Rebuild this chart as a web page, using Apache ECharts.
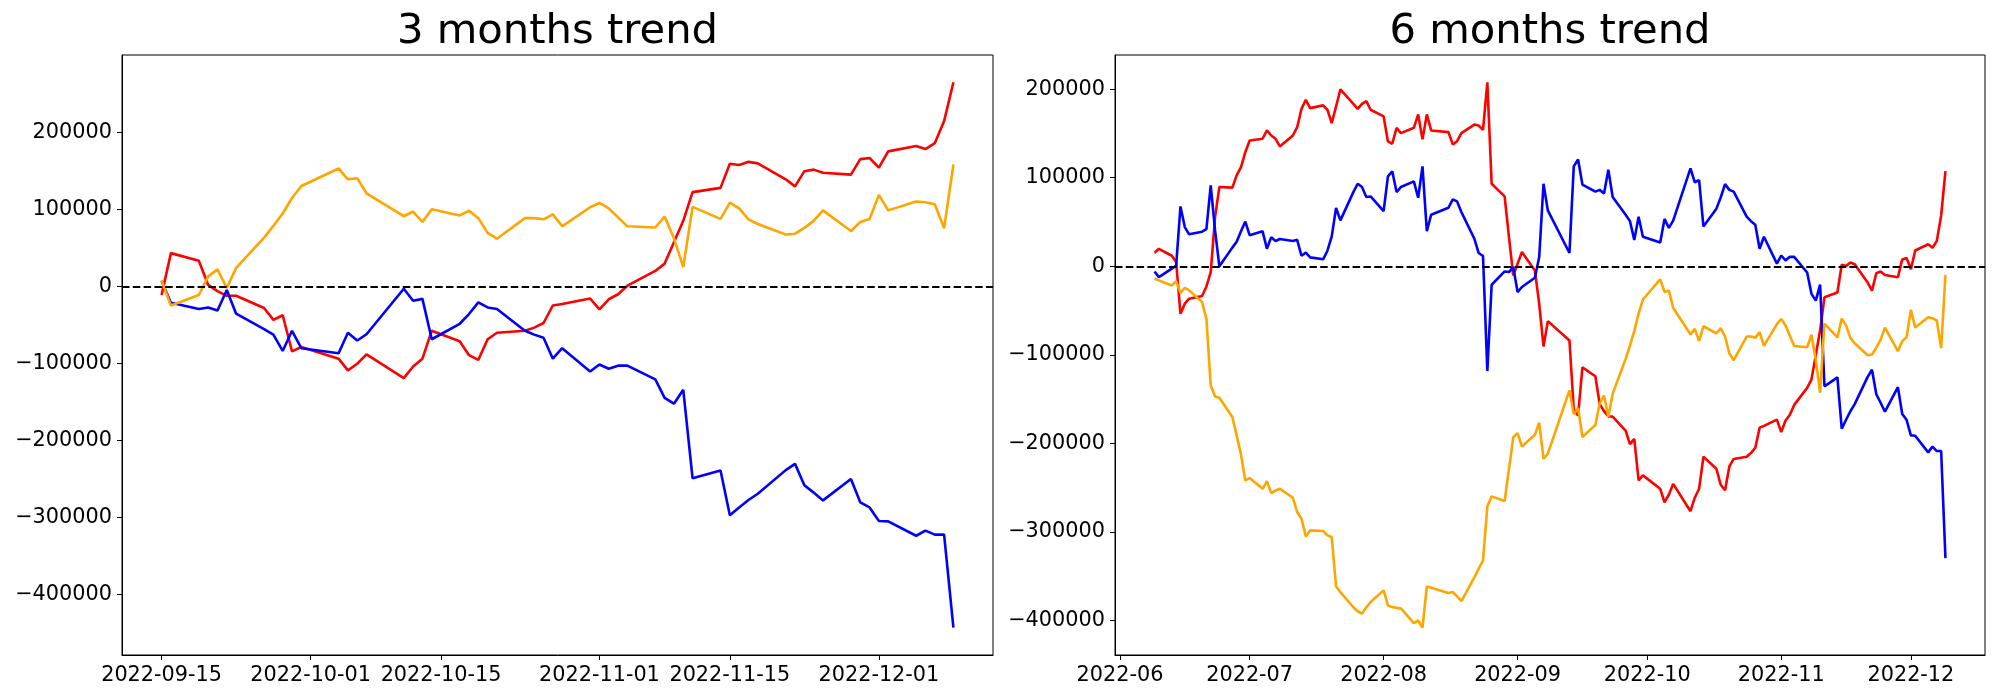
<!DOCTYPE html>
<html><head><meta charset="utf-8">
<script src="https://cdn.jsdelivr.net/npm/echarts@6/dist/echarts.min.js"></script>
<style>html,body{margin:0;padding:0;background:#fff}#c{width:2000px;height:700px}</style>
</head><body><div id="c"></div>
<script>
// ---------- DATA ----------
const titles = ['3 months trend', '6 months trend'];
const seriesNames = ['red', 'blue', 'orange'];

const leftDates = ['2022-09-15','2022-09-16','2022-09-19','2022-09-20','2022-09-21','2022-09-22','2022-09-23','2022-09-26','2022-09-27','2022-09-28','2022-09-29','2022-09-30',
'2022-10-04','2022-10-05','2022-10-06','2022-10-07','2022-10-11','2022-10-12','2022-10-13','2022-10-14','2022-10-17','2022-10-18','2022-10-19','2022-10-20','2022-10-21','2022-10-24','2022-10-25','2022-10-26','2022-10-27','2022-10-28','2022-10-31',
'2022-11-01','2022-11-02','2022-11-03','2022-11-04','2022-11-07','2022-11-08','2022-11-09','2022-11-10','2022-11-11','2022-11-14','2022-11-15','2022-11-16','2022-11-17','2022-11-18','2022-11-21','2022-11-22','2022-11-23','2022-11-24','2022-11-25','2022-11-28','2022-11-29','2022-11-30',
'2022-12-01','2022-12-02','2022-12-05','2022-12-06','2022-12-07','2022-12-08','2022-12-09'];

const leftRed = [-11000,43300,33300,2000,-6000,-12100,-12100,-28000,-43300,-37300,-84200,-78600,
-93700,-108900,-100300,-88200,-119000,-103800,-93700,-57500,-71100,-89200,-95300,-68500,-60000,-57500,-53400,-47400,-24700,-22700,-15600,
-29700,-16600,-10100,1000,20200,29700,57500,85200,122500,128000,159300,157800,161800,159800,139100,130000,149700,151700,147700,145200,165300,166800,
154200,175400,182400,178400,186000,214700,265100];

const leftOrange = [8000,-24700,-11100,13100,22200,-2000,24200,63500,78600,94800,114900,130500,
153200,139100,140600,121000,91200,97300,83700,100300,92200,98300,88700,69600,62000,88700,88700,87200,93700,78100,102800,
108400,101300,89700,78100,76600,90700,62500,25200,103300,87700,108900,101300,87200,81100,67500,68500,76100,85200,98800,72100,83700,87700,
118900,98800,110400,109400,106800,75600,158300];

const leftBlue = [7100,-21200,-29200,-27200,-31200,-4500,-35300,-55400,-62500,-83700,-57500,-80100,
-86700,-60000,-70100,-62000,-3000,-18600,-16100,-68500,-48400,-35800,-20700,-27200,-29200,-57500,-62500,-66500,-93700,-80100,-110400,
-101300,-106800,-102800,-102800,-120500,-144600,-152200,-134100,-249000,-238900,-296900,-286800,-277200,-269100,-238400,-230300,-258000,-267600,-277700,-250000,-280200,-286800,
-304400,-304900,-323600,-317000,-322100,-322100,-443000];

const rightDates = ['2022-06-09','2022-06-10','2022-06-13','2022-06-14','2022-06-15','2022-06-16','2022-06-17','2022-06-20','2022-06-21','2022-06-22','2022-06-23','2022-06-24','2022-06-27','2022-06-28','2022-06-29','2022-06-30',
'2022-07-01','2022-07-04','2022-07-05','2022-07-06','2022-07-07','2022-07-08','2022-07-11','2022-07-12','2022-07-13','2022-07-14','2022-07-15','2022-07-18','2022-07-19','2022-07-20','2022-07-21','2022-07-22','2022-07-25','2022-07-26','2022-07-27','2022-07-28','2022-07-29',
'2022-08-01','2022-08-02','2022-08-03','2022-08-04','2022-08-05','2022-08-08','2022-08-09','2022-08-10','2022-08-11','2022-08-12','2022-08-16','2022-08-17','2022-08-18','2022-08-19','2022-08-22','2022-08-23','2022-08-24','2022-08-25','2022-08-26','2022-08-29','2022-08-30','2022-08-31',
'2022-09-01','2022-09-02','2022-09-05','2022-09-06','2022-09-07','2022-09-08','2022-09-13','2022-09-14',
'2022-09-15','2022-09-16','2022-09-19','2022-09-20','2022-09-21','2022-09-22','2022-09-23','2022-09-26','2022-09-27','2022-09-28','2022-09-29','2022-09-30',
'2022-10-04','2022-10-05','2022-10-06','2022-10-07','2022-10-11','2022-10-12','2022-10-13','2022-10-14','2022-10-17','2022-10-18','2022-10-19','2022-10-20','2022-10-21','2022-10-24','2022-10-25','2022-10-26','2022-10-27','2022-10-28','2022-10-31',
'2022-11-01','2022-11-02','2022-11-03','2022-11-04','2022-11-07','2022-11-08','2022-11-09','2022-11-10','2022-11-11','2022-11-14','2022-11-15','2022-11-16','2022-11-17','2022-11-18','2022-11-21','2022-11-22','2022-11-23','2022-11-24','2022-11-25','2022-11-28','2022-11-29','2022-11-30',
'2022-12-01','2022-12-02','2022-12-05','2022-12-06','2022-12-07','2022-12-08','2022-12-09'];

const rightRed = [15300,19800,11900,4800,-53600,-42200,-36600,-33600,-22700,-6500,55600,89500,88800,102700,112100,128800,
142100,144000,153400,147700,144000,135300,147700,157100,177800,188000,178600,181700,176800,161700,180500,199800,183500,177800,183500,186500,176800,
169300,141000,138400,156400,150400,156400,171500,143300,171500,153400,151500,137600,141300,150400,160000,158900,154000,207800,93200,78900,33000,-10300,
2900,16100,-4600,-42300,-90500,-61900,-83700,-162000,
-168500,-114200,-124200,-155500,-163500,-169600,-169600,-185500,-200800,-194800,-241700,-236100,
-251200,-266400,-257800,-245700,-276500,-261300,-251200,-215000,-228600,-246700,-252800,-226000,-217500,-215000,-210900,-204900,-182200,-180200,-173100,
-187200,-174100,-167600,-156500,-137300,-127800,-100000,-72300,-35000,-29500,1800,300,4300,2300,-18400,-27500,-7800,-5800,-9800,-12300,7800,9300,
-3300,17900,24900,20900,28500,57200,107600];

const rightBlue = [-5800,-12200,-2700,1000,67600,44300,36100,39100,42000,91400,40500,0,21100,27700,39500,50500,
35100,39500,19800,32900,28600,30800,28600,29900,11900,15400,10100,7900,17600,33800,65900,51900,83800,93200,89500,78200,78900,
62400,101600,107300,83800,89500,95900,77400,112800,39600,58200,66100,75500,73300,61200,31100,15000,11600,-118300,-20800,-5800,-6500,-900,
-29100,-23400,-12900,10400,93200,63100,15000,112800,
120600,92300,84300,86300,82300,109000,78200,58100,51000,29800,56000,33400,
26800,53500,43400,51500,110500,94900,97400,45000,65100,77700,92800,86300,84300,56000,51000,47000,19800,33400,3100,
12200,6700,10700,10700,-7000,-31100,-38700,-20600,-135500,-125400,-183400,-173300,-163700,-155600,-124900,-116800,-144500,-154100,-164200,-136500,-166700,-173300,
-190900,-191400,-210100,-203500,-208600,-208600,-329500];

const rightOrange = [-14100,-15900,-21600,-16700,-30200,-24200,-27200,-40400,-59300,-134500,-146900,-148400,-170200,-190900,-212400,-241800,
-239100,-251200,-242500,-256100,-253100,-251200,-261300,-277500,-285000,-305000,-298200,-298900,-303800,-305700,-361500,-367800,-385000,-389500,-392000,-385000,-379000,
-365900,-382900,-384800,-385500,-386300,-402900,-399900,-408100,-361400,-362900,-368900,-367800,-372700,-378000,-351300,-341500,-332100,-271100,-259800,-265100,-229000,-193000,
-188300,-203400,-190200,-176600,-217300,-211600,-140100,-167200,
-160000,-192700,-179100,-154900,-145800,-170000,-143800,-104500,-89400,-73200,-53100,-37500,
-14800,-28900,-27400,-47000,-76800,-70700,-84300,-67700,-75800,-69700,-79300,-98400,-106000,-79300,-79300,-80800,-74300,-89900,-65200,
-59600,-66700,-78300,-89900,-91400,-77300,-105500,-142800,-64700,-80300,-59100,-66700,-80800,-86900,-100500,-99500,-91900,-82800,-69200,-95900,-84300,-80300,
-49100,-69200,-57600,-58600,-61200,-92400,-9700];

const leftXTicks = ['2022-09-15','2022-10-01','2022-10-15','2022-11-01','2022-11-15','2022-12-01'];
const rightXTicks = ['2022-06','2022-07','2022-08','2022-09','2022-10','2022-11','2022-12'];
const yTicks = [-400000,-300000,-200000,-100000,0,100000,200000];

// ---------- HELPERS ----------
const FONT = 'DejaVu Sans';
function ts(s){const p=s.split('-').map(Number);return Date.UTC(p[0],p[1]-1,p[2]||1);}
function xRange(dates){const a=ts(dates[0]),b=ts(dates[dates.length-1]);const s=b-a;return [a-0.05*s,b+0.05*s];}
function yRange(arrs){const all=[].concat(...arrs);const mn=Math.min(...all),mx=Math.max(...all);const r=mx-mn;return [mn-0.05*r,mx+0.05*r];}
function pairs(dates,vals){return dates.map((d,i)=>[ts(d),vals[i]]);}
function yFmt(v){return (v<0?'\u2212':'')+Math.abs(Math.round(v));}

const colors = {red:'#ff0000', blue:'#0000ff', orange:'#ffa500'};

function makeX(idx, dates, ticks){
  const r = xRange(dates);
  const tv = ticks.map(ts);
  return {
    gridIndex: idx, type:'value', min:r[0], max:r[1], scale:true,
    axisLine:{show:true, onZero:false, lineStyle:{color:'#000', width:1}},
    axisTick:{show:true, inside:false, length:5, customValues:tv, lineStyle:{color:'#000', width:1}},
    axisLabel:{customValues:tv, margin:10, color:'#000', fontSize:20.8, fontFamily:FONT,
      formatter:(v)=>{const i=tv.findIndex(t=>Math.abs(t-v)<1000);return i>=0?ticks[i]:'';}},
    splitLine:{show:false}, minorTick:{show:false}
  };
}
function makeY(idx, arrs){
  const r = yRange(arrs);
  return {
    gridIndex: idx, type:'value', min:r[0], max:r[1],
    axisLine:{show:true, onZero:false, lineStyle:{color:'#000', width:1}},
    axisTick:{show:true, inside:false, length:5, customValues:yTicks, lineStyle:{color:'#000', width:1}},
    axisLabel:{customValues:yTicks, margin:10, color:'#000', fontSize:20.8, fontFamily:FONT, formatter:yFmt},
    splitLine:{show:false}
  };
}
function lines(idx, dates, red, blue, orange){
  const out = [];
  const data = {red, blue, orange};
  seriesNames.forEach((n)=>{
    out.push({type:'line', name:n+idx, xAxisIndex:idx, yAxisIndex:idx, data:pairs(dates,data[n]),
      showSymbol:false, symbol:'none', lineStyle:{color:colors[n], width:2.6}, itemStyle:{color:colors[n]},
      z:3, silent:true});
  });
  out[0].markLine = {silent:true, symbol:['none','none'], label:{show:false},
    lineStyle:{color:'#000', type:[7.5,3.3], width:2}, data:[{yAxis:0}], animation:false};
  return out;
}

const option = {
  animation:false,
  backgroundColor:'#fff',
  title:[
    {text:titles[0], left:557.5, top:11, textAlign:'center', padding:0,
     textStyle:{fontFamily:FONT, fontSize:41.7, fontWeight:'normal', color:'#000'}},
    {text:titles[1], left:1550, top:11, textAlign:'center', padding:0,
     textStyle:{fontFamily:FONT, fontSize:41.7, fontWeight:'normal', color:'#000'}}
  ],
  grid:[
    {left:122, top:55, width:871, height:600, show:true, borderColor:'#000', borderWidth:1, backgroundColor:'transparent', containLabel:false, outerBoundsMode:'none'},
    {left:1115, top:55, width:870, height:600, show:true, borderColor:'#000', borderWidth:1, backgroundColor:'transparent', containLabel:false, outerBoundsMode:'none'}
  ],
  xAxis:[makeX(0,leftDates,leftXTicks), makeX(1,rightDates,rightXTicks)],
  yAxis:[makeY(0,[leftRed,leftBlue,leftOrange]), makeY(1,[rightRed,rightBlue,rightOrange])],
  series:[].concat(lines(0,leftDates,leftRed,leftBlue,leftOrange), lines(1,rightDates,rightRed,rightBlue,rightOrange))
};
const chart = echarts.init(document.getElementById('c'), null, {renderer:'canvas', width:2000, height:700});
chart.setOption(option);
</script>
</body></html>
